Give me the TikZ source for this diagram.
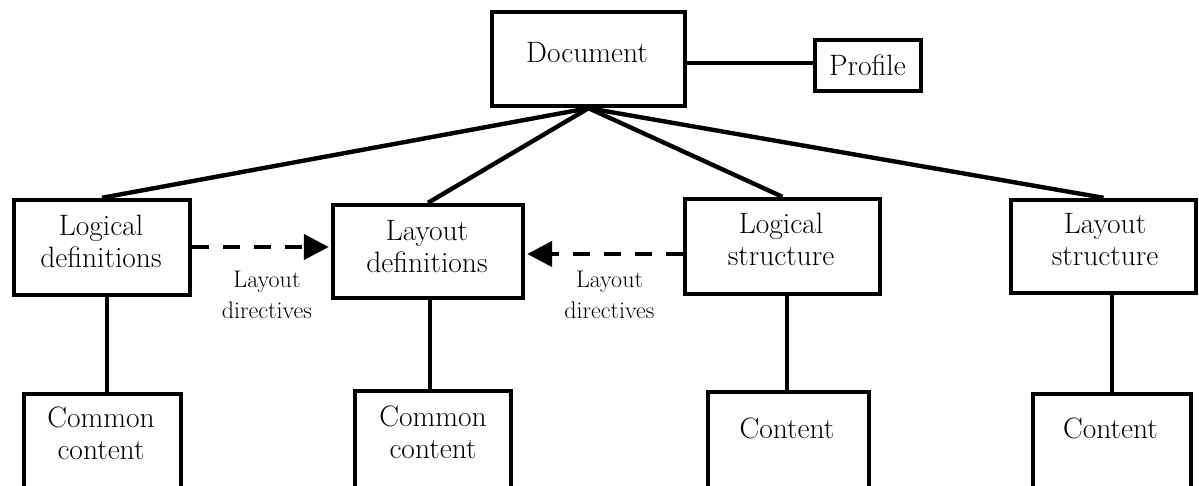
\documentclass[tikz,border=0pt]{standalone}
\usetikzlibrary{arrows.meta,calc}
\newcommand{\twoline}[2]{\begin{tabular}[t]{@{}c@{}}#1\\#2\end{tabular}}
\begin{document}
\begin{tikzpicture}[x=1pt,y=-1pt,
  box/.style={draw,line width=4.4pt,inner sep=0pt},
  txt/.style={anchor=base,inner sep=0pt,font=\fontsize{29.5}{32}\selectfont},
  lab/.style={anchor=base,inner sep=0pt,font=\fontsize{24}{31}\selectfont},
  conn/.style={line width=4.4pt},
  dir/.style={line width=4.6pt,dash pattern=on 17pt off 14pt,shorten >=2pt,-{Triangle[length=25pt,width=25pt]}}]
\useasboundingbox (0,0) rectangle (1199,485);
\clip (0,0) rectangle (1199,485);
% boxes
\node[box,minimum width=193pt,minimum height=94pt] (doc) at (588.5,59) {};
\node[box,minimum width=106pt,minimum height=51pt] (profile) at (868,65.5) {};
\node[box,minimum width=176pt,minimum height=95pt] (ld) at (102,247.5) {};
\node[box,minimum width=190pt,minimum height=93pt] (lyd) at (428,251.5) {};
\node[box,minimum width=195pt,minimum height=95pt] (ls) at (782.5,246.5) {};
\node[box,minimum width=185pt,minimum height=93pt] (lys) at (1103.5,246.5) {};
\node[box,minimum width=157pt,minimum height=97pt] (cc1) at (102.5,442.5) {};
\node[box,minimum width=156pt,minimum height=100pt] (cc2) at (433,441) {};
\node[box,minimum width=161pt,minimum height=99pt] (c1) at (788.5,441.5) {};
\node[box,minimum width=158pt,minimum height=97pt] (c2) at (1112,442.5) {};
% texts
\node[txt] (tdoc) at (587,62) {Document};
\node[txt] (tprof) at (867.5,75) {Profile};
\node[txt] (tld) at (101,235) {\twoline{Logical}{definitions}};
\node[txt] (tlyd) at (427,240) {\twoline{Layout}{definitions}};
\node[txt] (tls) at (781,233) {\twoline{Logical}{structure}};
\node[txt] (tlys) at (1105,233) {\twoline{Layout}{structure}};
\node[txt] (tcc1) at (101,427) {\twoline{Common}{content}};
\node[txt] (tcc2) at (433,426) {\twoline{Common}{content}};
\node[txt] (tc1) at (787,438) {Content};
\node[txt] (tc2) at (1110.5,438) {Content};
\node[lab] (l1) at (267,287) {\twoline{Layout}{directives}};
\node[lab] (l2) at (609.5,287) {\twoline{Layout}{directives}};
% connectors
\draw[conn] (doc.east |- 0,63) -- (profile.west |- 0,63);
\draw[conn] (doc.south) -- (ld.north);
\draw[conn] (doc.south) -- (lyd.north);
\draw[conn] (doc.south) -- (ls.north);
\draw[conn] (doc.south) -- (lys.north);
\draw[conn] (ld.south -| 107,0) -- (cc1.north -| 107,0);
\draw[conn] (lyd.south -| 430,0) -- (cc2.north -| 430,0);
\draw[conn] (ls.south -| 787,0) -- (c1.north -| 787,0);
\draw[conn] (lys.south -| 1112,0) -- (c2.north -| 1112,0);
\draw[dir] (ld.east |- 0,247) -- (lyd.west |- 0,247);
\draw[dir] (ls.west |- 0,254) -- (lyd.east |- 0,254);
\end{tikzpicture}
\end{document}
